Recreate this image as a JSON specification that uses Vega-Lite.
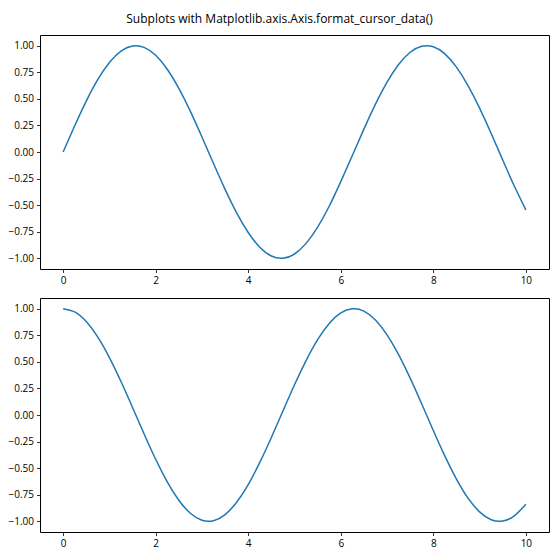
{
  "$schema": "https://vega.github.io/schema/vega-lite/v6.json",
  "description": "Two stacked line panels: sin(x) and cos(x) over 0-10",
  "padding": {"left": 7, "top": 12, "right": 10, "bottom": 10},
  "background": "white",
  "title": {
    "text": "Subplots with Matplotlib.axis.Axis.format_cursor_data()",
    "anchor": "middle",
    "frame": "group",
    "dx": -15,
    "offset": 9,
    "fontSize": 12,
    "fontWeight": "normal",
    "font": "Open Sans",
    "color": "black"
  },
  "data": {
    "values": [
      {"x": 0, "sin": 0, "cos": 1},
      {"x": 0.25, "sin": 0.247, "cos": 0.969},
      {"x": 0.5, "sin": 0.479, "cos": 0.878},
      {"x": 0.75, "sin": 0.682, "cos": 0.732},
      {"x": 1, "sin": 0.841, "cos": 0.540},
      {"x": 1.25, "sin": 0.949, "cos": 0.315},
      {"x": 1.5, "sin": 0.997, "cos": 0.071},
      {"x": 1.75, "sin": 0.984, "cos": -0.178},
      {"x": 2, "sin": 0.909, "cos": -0.416},
      {"x": 2.25, "sin": 0.778, "cos": -0.628},
      {"x": 2.5, "sin": 0.598, "cos": -0.801},
      {"x": 2.75, "sin": 0.382, "cos": -0.924},
      {"x": 3, "sin": 0.141, "cos": -0.990},
      {"x": 3.25, "sin": -0.108, "cos": -0.994},
      {"x": 3.5, "sin": -0.351, "cos": -0.936},
      {"x": 3.75, "sin": -0.572, "cos": -0.820},
      {"x": 4, "sin": -0.757, "cos": -0.654},
      {"x": 4.25, "sin": -0.895, "cos": -0.446},
      {"x": 4.5, "sin": -0.978, "cos": -0.211},
      {"x": 4.75, "sin": -0.999, "cos": 0.037},
      {"x": 5, "sin": -0.959, "cos": 0.284},
      {"x": 5.25, "sin": -0.859, "cos": 0.512},
      {"x": 5.5, "sin": -0.706, "cos": 0.709},
      {"x": 5.75, "sin": -0.510, "cos": 0.861},
      {"x": 6, "sin": -0.279, "cos": 0.960},
      {"x": 6.25, "sin": -0.033, "cos": 0.999},
      {"x": 6.5, "sin": 0.215, "cos": 0.977},
      {"x": 6.75, "sin": 0.450, "cos": 0.893},
      {"x": 7, "sin": 0.657, "cos": 0.754},
      {"x": 7.25, "sin": 0.823, "cos": 0.568},
      {"x": 7.5, "sin": 0.938, "cos": 0.347},
      {"x": 7.75, "sin": 0.994, "cos": 0.104},
      {"x": 8, "sin": 0.989, "cos": -0.146},
      {"x": 8.25, "sin": 0.923, "cos": -0.386},
      {"x": 8.5, "sin": 0.798, "cos": -0.602},
      {"x": 8.75, "sin": 0.624, "cos": -0.782},
      {"x": 9, "sin": 0.412, "cos": -0.911},
      {"x": 9.25, "sin": 0.174, "cos": -0.985},
      {"x": 9.5, "sin": -0.075, "cos": -0.997},
      {"x": 9.75, "sin": -0.320, "cos": -0.948},
      {"x": 10, "sin": -0.544, "cos": -0.839}
    ]
  },
  "spacing": 29,
  "bounds": "flush",
  "vconcat": [
    {
      "width": 509,
      "height": 234,
      "mark": {"type": "line", "stroke": "#1f77b4", "strokeWidth": 1.5, "interpolate": "natural"},
      "encoding": {
        "x": {
          "field": "x",
          "type": "quantitative",
          "scale": {"domain": [-0.5, 10.5], "nice": false, "zero": false},
          "axis": {"values": [0, 2, 4, 6, 8, 10], "title": null}
        },
        "y": {
          "field": "sin",
          "type": "quantitative",
          "scale": {"domain": [-1.1, 1.1], "nice": false},
          "axis": {"values": [-1, -0.75, -0.5, -0.25, 0, 0.25, 0.5, 0.75, 1], "format": ".2f", "title": null}
        }
      }
    },
    {
      "width": 509,
      "height": 234,
      "mark": {"type": "line", "stroke": "#1f77b4", "strokeWidth": 1.5, "interpolate": "natural"},
      "encoding": {
        "x": {
          "field": "x",
          "type": "quantitative",
          "scale": {"domain": [-0.5, 10.5], "nice": false, "zero": false},
          "axis": {"values": [0, 2, 4, 6, 8, 10], "title": null}
        },
        "y": {
          "field": "cos",
          "type": "quantitative",
          "scale": {"domain": [-1.1, 1.1], "nice": false},
          "axis": {"values": [-1, -0.75, -0.5, -0.25, 0, 0.25, 0.5, 0.75, 1], "format": ".2f", "title": null}
        }
      }
    }
  ],
  "config": {
    "view": {"stroke": "black", "strokeWidth": 1},
    "axis": {
      "grid": false,
      "domain": false,
      "tickColor": "black",
      "tickSize": 3.5,
      "tickWidth": 0.8,
      "labelColor": "black",
      "labelFont": "Open Sans",
      "labelFontSize": 10,
      "labelPadding": 3
    }
  }
}
